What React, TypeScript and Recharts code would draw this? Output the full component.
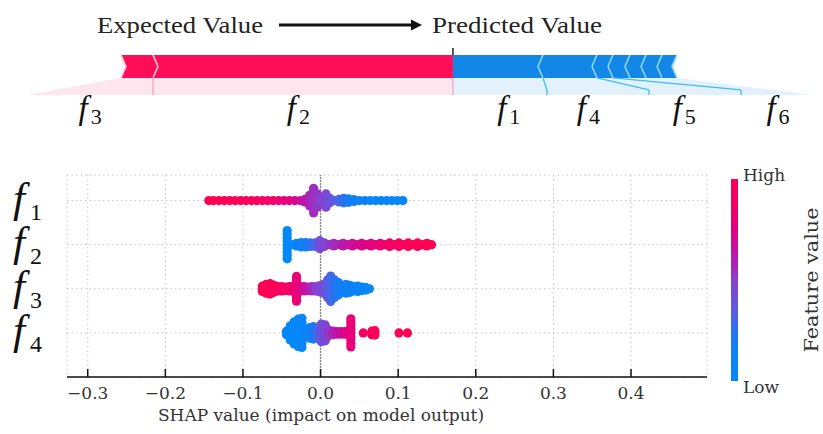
import React from "react";
import {
  ComposedChart,
  ScatterChart,
  Scatter,
  XAxis,
  YAxis,
  CartesianGrid,
  ReferenceArea,
  ReferenceLine,
} from "recharts";

// ---------- force plot (top), axis units: one tick = 1 ----------
const predictedValue = 4.018;
const forceTicks = [1, 2, 3, 4, 5, 6, 7];
// listed from the prediction outwards
const redNames = ["f2", "f3"];
const redEffects = [2.752, 0.294];
const blueNames = ["f1", "f4", "f5", "f6", "f7", "f8", "f9"];
const blueEffects = [0.826, 0.495, 0.147, 0.156, 0.147, 0.147, 0.137];
// outer edge of each feature's label slot below the bar
const redSlotEdges = [1.266, 0.11];
const blueSlotEdges = [4.881, 5.817, 6.661, 7.321];
const forceLabels = ["f3", "f2", "f1", "f4", "f5", "f6"];
const forceLabelPos = [0.69, 2.6, 4.53, 5.26, 6.14, 7.0];

// ---------- summary plot (bottom) ----------
const featureNames = ["f1", "f2", "f3", "f4"];
const shapTicks = [-0.3, -0.2, -0.1, 0, 0.1, 0.2, 0.3, 0.4];
// [shap value, feature value (0 low .. 1 high), stacked offsets (0 = on the row, d = one dot above and one below)]
const f1Cols = [
  [-0.144, 1.0, 0], [-0.138, 1.0, 0], [-0.131, 0.99, 0], [-0.124, 0.98, 0],
  [-0.117, 0.98, 0], [-0.11, 0.97, 0], [-0.103, 0.96, 0], [-0.096, 0.95, 0],
  [-0.089, 0.94, 0], [-0.082, 0.92, 0], [-0.075, 0.9, 0], [-0.068, 0.88, 0],
  [-0.061, 0.86, 0], [-0.054, 0.83, 0], [-0.047, 0.8, 0], [-0.04, 0.76, 0],
  [-0.033, 0.72, 0], [-0.026, 0.67, 0], [-0.02, 0.62, 0, 0.03],
  [-0.014, 0.58, 0, 0.06, 0.12], [-0.009, 0.55, 0, 0.07, 0.14, 0.21, 0.28],
  [-0.004, 0.52, 0, 0.08, 0.15], [0.001, 0.48, 0, 0.04],
  [0.007, 0.45, 0, 0.05, 0.1, 0.15], [0.012, 0.4, 0, 0.05], [0.018, 0.34, 0],
  [0.024, 0.3, 0, 0.03], [0.03, 0.25, 0, 0.05], [0.036, 0.2, 0, 0.04],
  [0.043, 0.15, 0, 0.02], [0.05, 0.12, 0], [0.057, 0.1, 0], [0.064, 0.09, 0],
  [0.071, 0.08, 0], [0.078, 0.07, 0], [0.085, 0.06, 0], [0.092, 0.06, 0],
  [0.099, 0.05, 0], [0.106, 0.05, 0],
];
const f2Cols = [
  [-0.043, 0.03, 0, 0.08, 0.16, 0.24, 0.32], [-0.037, 0.06, 0], [-0.031, 0.1, 0, 0.03],
  [-0.025, 0.14, 0, 0.05], [-0.019, 0.18, 0, 0.05], [-0.013, 0.24, 0, 0.04],
  [-0.007, 0.3, 0, 0.04], [-0.001, 0.42, 0, 0.05, 0.09], [0.005, 0.48, 0, 0.04],
  [0.011, 0.52, 0], [0.017, 0.55, 0, 0.03], [0.023, 0.58, 0], [0.029, 0.61, 0, 0.03],
  [0.035, 0.64, 0], [0.041, 0.67, 0, 0.03], [0.047, 0.7, 0], [0.053, 0.72, 0, 0.03],
  [0.059, 0.75, 0], [0.065, 0.77, 0, 0.03], [0.071, 0.79, 0], [0.077, 0.82, 0, 0.03],
  [0.083, 0.84, 0], [0.089, 0.86, 0, 0.04], [0.095, 0.88, 0], [0.101, 0.9, 0, 0.04],
  [0.107, 0.92, 0], [0.113, 0.94, 0, 0.04], [0.119, 0.96, 0], [0.125, 0.97, 0, 0.04],
  [0.131, 0.98, 0], [0.137, 1.0, 0, 0.03], [0.143, 1.0, 0],
];
const f3Cols = [
  [-0.075, 1.0, 0, 0.06], [-0.07, 1.0, 0, 0.1], [-0.065, 0.98, 0, 0.12],
  [-0.06, 0.97, 0, 0.08], [-0.055, 0.95, 0, 0.05], [-0.05, 0.92, 0, 0.05],
  [-0.045, 0.9, 0, 0.04], [-0.04, 0.87, 0, 0.05], [-0.035, 0.84, 0, 0.06],
  [-0.031, 0.8, 0, 0.07, 0.14, 0.21, 0.28], [-0.026, 0.74, 0, 0.05],
  [-0.021, 0.68, 0, 0.05], [-0.016, 0.62, 0, 0.04], [-0.011, 0.56, 0, 0.05],
  [-0.006, 0.51, 0, 0.05], [-0.001, 0.46, 0, 0.07], [0.004, 0.42, 0, 0.06, 0.1],
  [0.009, 0.36, 0, 0.07, 0.14, 0.2], [0.013, 0.3, 0, 0.07, 0.14, 0.21, 0.29],
  [0.018, 0.25, 0, 0.07, 0.14, 0.2], [0.023, 0.2, 0, 0.07, 0.14], [0.028, 0.16, 0, 0.08],
  [0.033, 0.14, 0, 0.06, 0.1], [0.038, 0.12, 0, 0.08], [0.043, 0.1, 0, 0.05],
  [0.048, 0.09, 0, 0.06], [0.053, 0.08, 0, 0.04], [0.058, 0.06, 0, 0.03],
  [0.063, 0.05, 0],
];
const f4Cols = [
  [-0.044, 0.04, 0, 0.04], [-0.039, 0.04, 0, 0.08, 0.16], [-0.034, 0.05, 0, 0.08, 0.16, 0.25],
  [-0.029, 0.05, 0, 0.08, 0.16, 0.24, 0.31], [-0.024, 0.06, 0, 0.08, 0.16, 0.24, 0.33],
  [-0.019, 0.08, 0, 0.07], [-0.014, 0.12, 0, 0.06, 0.12], [-0.009, 0.2, 0, 0.07, 0.14],
  [-0.004, 0.3, 0, 0.08], [0.001, 0.4, 0, 0.07, 0.14, 0.2], [0.006, 0.46, 0, 0.07, 0.14, 0.18],
  [0.011, 0.52, 0, 0.06], [0.016, 0.58, 0, 0.04], [0.021, 0.63, 0, 0.03],
  [0.026, 0.67, 0, 0.03], [0.031, 0.71, 0, 0.03], [0.036, 0.75, 0, 0.04],
  [0.039, 0.8, 0, 0.08, 0.16, 0.24, 0.32], [0.055, 0.9, 0], [0.066, 0.95, 0, 0.04],
  [0.07, 0.97, 0, 0.05], [0.101, 1.0, 0], [0.112, 1.0, 0],
];

// ---------- styles ----------
const RED = "#ff0d57";
const RED_LIGHT = "#ffc3d5";
const RED_ZONE = "#fde6ee";
const BLUE = "#1287e8";
const BLUE_LIGHT = "#8fd4f7";
const BLUE_ZONE = "#e3f1fc";
const BLUE_LINK = "#3cbdf0";
const NOTCH = 5;
const BAR_TOP = 1;
const BAR_BOT = 0;
const SLOT_BOT = -0.74;
const ELBOW = -0.52;
const LABEL_Y = -1.48;
const SERIF = "'Liberation Serif', 'DejaVu Serif', serif";
const DSERIF = "'DejaVu Serif', serif";

const cmapStops: [number, number[]][] = [
  [0, [0, 138, 250]],
  [0.2, [22, 124, 245]],
  [0.35, [92, 92, 226]],
  [0.5, [140, 62, 206]],
  [0.62, [188, 22, 172]],
  [0.75, [226, 0, 132]],
  [0.88, [246, 0, 100]],
  [1, [255, 0, 82]],
];
function shapColor(v: number) {
  for (let i = 1; i < cmapStops.length; i++) {
    const [t1, c1] = cmapStops[i];
    const [t0, c0] = cmapStops[i - 1];
    if (v <= t1) {
      const k = (v - t0) / (t1 - t0);
      const c = c0.map((a, j) => Math.round(a + (c1[j] - a) * k));
      return `rgb(${c[0]},${c[1]},${c[2]})`;
    }
  }
  return "rgb(255,0,82)";
}

// segments of the force bar
let acc = predictedValue;
const redSegs = redNames.map((name, i) => {
  const to = acc;
  acc -= redEffects[i];
  return { name, from: acc, to };
});
acc = predictedValue;
const blueSegs = blueNames.map((name, i) => {
  const from = acc;
  acc += blueEffects[i];
  return { name, from, to: acc };
});
const redStart = redSegs[redSegs.length - 1].from;
const blueEnd = blueSegs[blueSegs.length - 1].to;
const redSlotLeft = redSlotEdges[redSlotEdges.length - 1];
const blueSlotRight = blueSlotEdges[blueSlotEdges.length - 1];

const forceLabelData = forceLabels.map((name, i) => ({ x: forceLabelPos[i], y: LABEL_Y, name }));

const beePoints = [f1Cols, f2Cols, f3Cols, f4Cols].flatMap((cols, r) =>
  cols.flatMap(([s, fv, ...offs]) =>
    offs.flatMap((o) =>
      o === 0
        ? [{ x: s, y: 4 - r, fv }]
        : [
            { x: s, y: 4 - r + o, fv },
            { x: s, y: 4 - r - o, fv },
          ]
    )
  )
);

const pts = (a: number[][]) => a.map((p) => p.join(",")).join(" ");

const redShape = (i: number) => (p: any) => {
  const { x, y, width: w, height: h } = p;
  const m = y + h / 2;
  const b = y + h;
  const poly = [[x, y], [x + w, y]];
  if (i > 0) poly.push([x + w + NOTCH, m]);
  poly.push([x + w, b], [x, b], [x + NOTCH, m]);
  return (
    <g>
      <polygon points={pts(poly)} fill={RED} />
      <polyline points={pts([[x, y], [x + NOTCH, m], [x, b]])} fill="none" stroke={RED_LIGHT} strokeWidth={1.6} />
    </g>
  );
};

const blueShape = (i: number) => (p: any) => {
  const { x, y, width: w, height: h } = p;
  const m = y + h / 2;
  const b = y + h;
  const poly = [[x, y], [x + w, y], [x + w - NOTCH, m], [x + w, b], [x, b]];
  if (i > 0) poly.push([x - NOTCH, m]);
  return (
    <g>
      <polygon points={pts(poly)} fill={BLUE} />
      <polyline points={pts([[x + w, y], [x + w - NOTCH, m], [x + w, b]])} fill="none" stroke={BLUE_LIGHT} strokeWidth={1.6} />
    </g>
  );
};

const redZone = (p: any) => {
  const { x, y, width: w, height: h } = p;
  const k = (redStart - redSlotLeft) / (predictedValue - redSlotLeft);
  return <polygon points={pts([[x + w * k, y], [x + w, y], [x + w, y + h], [x, y + h]])} fill={RED_ZONE} />;
};

const blueZone = (p: any) => {
  const { x, y, width: w, height: h } = p;
  const k = (blueEnd - predictedValue) / (blueSlotRight - predictedValue);
  return <polygon points={pts([[x, y], [x + w * k, y], [x + w, y + h], [x, y + h]])} fill={BLUE_ZONE} />;
};

const ForceLabel = (p: any) => {
  const { cx, cy, payload } = p;
  return (
    <text x={cx} y={cy + 7} textAnchor="middle" fill="#111" fontFamily={SERIF}>
      <tspan fontStyle="italic" fontSize={33}>f</tspan>
      <tspan fontSize={22} dx={3} dy={5}>{payload.name.slice(1)}</tspan>
    </text>
  );
};

const BeeDot = (p: any) => <circle cx={p.cx} cy={p.cy} r={4.6} fill={shapColor(p.payload.fv)} />;

const RowTick = (p: any) => {
  const name = featureNames[4 - p.payload.value];
  return (
    <text x={13} y={p.y + 11} fill="#111" fontFamily={SERIF}>
      <tspan fontStyle="italic" fontSize={43}>f</tspan>
      <tspan fontSize={24} dx={5} dy={8}>{name.slice(1)}</tspan>
    </text>
  );
};

const ShapTick = (p: any) => {
  const { x, y, payload } = p;
  const v = payload.value;
  const s = v < 0 ? "\u2212" + Math.abs(v).toFixed(1) : v.toFixed(1);
  return (
    <g>
      <line x1={x} y1={y} x2={x} y2={y - 8} stroke="#111" strokeWidth={1.5} />
      <text x={x} y={y + 22} textAnchor="middle" fontFamily={DSERIF} fontSize={17} fill="#333">
        {s}
      </text>
    </g>
  );
};

const forceDomain = [0.0275, 7.413];

export default function App() {
  return (
    <div style={{ position: "absolute", left: 0, top: 0, width: 823, height: 434, background: "#fff" }}>
      <div style={{ position: "absolute", left: 0, top: 0 }}>
        <ComposedChart width={823} height={140} margin={{ top: 48, right: 0, bottom: 1, left: 18 }}>
          <XAxis
            xAxisId="top"
            type="number"
            dataKey="x"
            orientation="top"
            mirror
            height={0}
            domain={forceDomain}
            ticks={forceTicks}
            tick={false}
            tickSize={4}
            stroke="#9e9e9e"
          />
          <XAxis
            xAxisId="bottom"
            type="number"
            dataKey="x"
            orientation="bottom"
            height={0}
            domain={forceDomain}
            tick={false}
            tickLine={false}
            axisLine={{ stroke: "#222", strokeWidth: 2 }}
          />
          <YAxis type="number" dataKey="y" domain={[-2.65, 1.3]} hide />

          <ReferenceArea xAxisId="top" x1={redSlotLeft} x2={predictedValue} y1={SLOT_BOT} y2={BAR_BOT} shape={redZone} />
          <ReferenceArea xAxisId="top" x1={predictedValue} x2={blueSlotRight} y1={SLOT_BOT} y2={BAR_BOT} shape={blueZone} />

          {redSegs.slice(0, -1).map((s, i) => (
            <ReferenceLine
              key={"rl" + i}
              xAxisId="top"
              segment={[{ x: s.from, y: BAR_BOT }, { x: redSlotEdges[i], y: SLOT_BOT }]}
              stroke="#ffa3bf"
              strokeWidth={1.3}
            />
          ))}
          <ReferenceLine
            xAxisId="top"
            segment={[{ x: predictedValue, y: BAR_BOT }, { x: predictedValue, y: SLOT_BOT }]}
            stroke="#ffa3bf"
            strokeWidth={1.3}
          />
          {blueSlotEdges.slice(0, -1).map((edge, i) => (
            <React.Fragment key={"bl" + i}>
              <ReferenceLine
                xAxisId="top"
                segment={[{ x: blueSegs[i].to, y: BAR_BOT }, { x: edge, y: ELBOW }]}
                stroke={BLUE_LINK}
                strokeWidth={1.3}
              />
              <ReferenceLine
                xAxisId="top"
                segment={[{ x: edge, y: ELBOW }, { x: edge, y: SLOT_BOT }]}
                stroke={BLUE_LINK}
                strokeWidth={1.3}
              />
            </React.Fragment>
          ))}

          {redSegs
            .map((s, i) => ({ s, i }))
            .reverse()
            .map(({ s, i }) => (
              <ReferenceArea key={s.name} xAxisId="top" x1={s.from} x2={s.to} y1={BAR_BOT} y2={BAR_TOP} shape={redShape(i)} />
            ))}
          {blueSegs
            .map((s, i) => ({ s, i }))
            .reverse()
            .map(({ s, i }) => (
              <ReferenceArea key={s.name} xAxisId="top" x1={s.from} x2={s.to} y1={BAR_BOT} y2={BAR_TOP} shape={blueShape(i)} />
            ))}

          <ReferenceLine
            xAxisId="top"
            segment={[{ x: predictedValue, y: 1.3 }, { x: predictedValue, y: BAR_TOP }]}
            stroke="#222"
            strokeWidth={1.5}
          />

          <Scatter xAxisId="top" data={forceLabelData} shape={ForceLabel} isAnimationActive={false} />
        </ComposedChart>
      </div>

      <div style={{ position: "absolute", left: 0, top: 140 }}>
        <ScatterChart width={823} height={294} margin={{ top: 35, right: 116, bottom: 0, left: 0 }}>
          <CartesianGrid stroke="#c4c4c4" strokeDasharray="1.5 3" />
          <XAxis
            type="number"
            dataKey="x"
            domain={[-0.3267, 0.4979]}
            ticks={shapTicks}
            tick={<ShapTick />}
            tickSize={0}
            tickMargin={0}
            tickLine={false}
            height={57}
            axisLine={{ stroke: "#111", strokeWidth: 1.6 }}
            label={{
              value: "SHAP value (impact on model output)",
              position: "insideBottom",
              offset: 13,
              dx: -66,
              fontFamily: DSERIF,
              fontSize: 17,
              fill: "#333",
            }}
          />
          <YAxis
            type="number"
            dataKey="y"
            domain={[0, 4.58]}
            ticks={[1, 2, 3, 4]}
            width={67}
            axisLine={false}
            tickLine={false}
            tick={<RowTick />}
          />
          <ReferenceLine x={0} stroke="#8a8a8a" strokeWidth={1.4} strokeDasharray="2 1" />
          <Scatter data={beePoints} shape={BeeDot} isAnimationActive={false} />
        </ScatterChart>
      </div>

      <svg width={823} height={434} style={{ position: "absolute", left: 0, top: 0, pointerEvents: "none" }}>
        <defs>
          <linearGradient id="cbar" x1="0" y1="1" x2="0" y2="0">
            {cmapStops.map(([t, c]) => (
              <stop key={t} offset={t} stopColor={`rgb(${c[0]},${c[1]},${c[2]})`} />
            ))}
          </linearGradient>
        </defs>
        <text x={97} y={33} fontFamily={SERIF} fontSize={23} fill="#222" textLength={166} lengthAdjust="spacingAndGlyphs">
          Expected Value
        </text>
        <line x1={279} y1={25} x2={413} y2={25} stroke="#111" strokeWidth={3} />
        <polygon points="411,19.5 422,25 411,30.5" fill="#111" />
        <text x={432} y={33} fontFamily={SERIF} fontSize={23} fill="#222" textLength={170} lengthAdjust="spacingAndGlyphs">
          Predicted Value
        </text>

        <rect x={731} y={179} width={7} height={202} fill="url(#cbar)" />
        <text x={743} y={181} fontFamily={DSERIF} fontSize={17} fill="#333">
          High
        </text>
        <text x={743} y={393} fontFamily={DSERIF} fontSize={17} fill="#333">
          Low
        </text>
        <text
          x={818}
          y={280}
          transform="rotate(-90 818 280)"
          textAnchor="middle"
          fontFamily={DSERIF}
          fontSize={19}
          fill="#333"
          textLength={145}
          lengthAdjust="spacingAndGlyphs"
        >
          Feature value
        </text>
      </svg>
    </div>
  );
}
